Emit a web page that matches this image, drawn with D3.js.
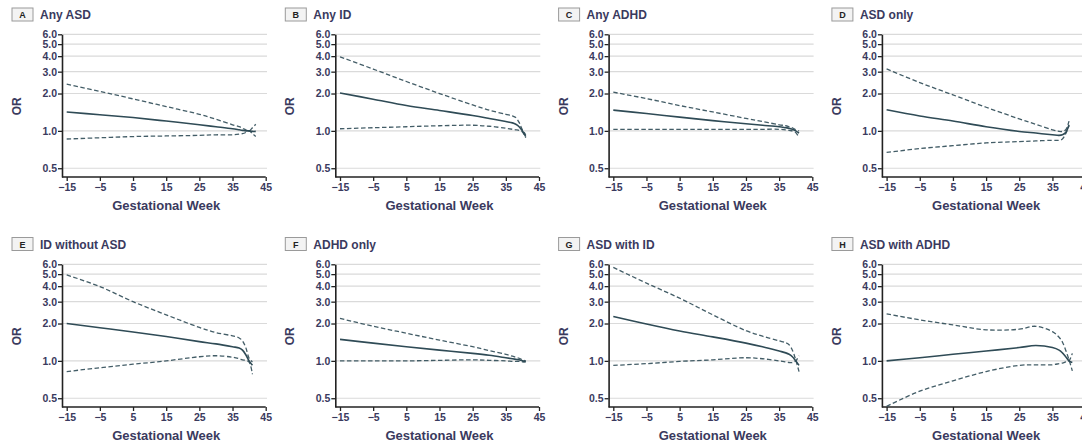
<!DOCTYPE html>
<html>
<head>
<meta charset="utf-8">
<script src="https://cdn.jsdelivr.net/npm/d3@7"></script>
<style>
  html, body { margin: 0; padding: 0; background: #fff; }
  svg { display: block; }
</style>
</head>
<body>
<svg id="chart" width="1082" height="444"></svg>
<script>
// ---- data ----
const weeks = [-15, -5, 5, 15, 25, 30, 35, 37, 38, 39, 40, 41, 42];
const xTicks = [-15, -5, 5, 15, 25, 35, 45];
const yTicks = [0.5, 1.0, 2.0, 3.0, 4.0, 5.0, 6.0];
const panelLetters = ["A", "B", "C", "D", "E", "F", "G", "H"];
const panelTitles = ["Any ASD", "Any ID", "Any ADHD", "ASD only", "ID without ASD", "ADHD only", "ASD with ID", "ASD with ADHD"];
const xLabel = "Gestational Week";
const yLabel = "OR";

const anyASD_or = [1.42, 1.35, 1.28, 1.20, 1.12, 1.08, 1.04, 1.02, 1.01, 1.00, 1.00, 0.99, 0.99];
const anyASD_hi = [2.38, 2.08, 1.81, 1.57, 1.36, 1.24, 1.12, 1.08, 1.05, 1.02, 1.00, 1.06, 1.13];
const anyASD_lo = [0.86, 0.88, 0.90, 0.91, 0.92, 0.93, 0.93, 0.94, 0.95, 0.97, 1.00, 0.95, 0.90];

const anyID_or = [2.02, 1.80, 1.60, 1.46, 1.33, 1.26, 1.19, 1.16, 1.13, 1.08, 1.00, 0.90, null];
const anyID_hi = [3.95, 3.15, 2.50, 2.00, 1.62, 1.47, 1.36, 1.32, 1.28, 1.17, 1.02, 0.93, null];
const anyID_lo = [1.04, 1.06, 1.08, 1.10, 1.11, 1.09, 1.05, 1.03, 1.02, 1.01, 0.98, 0.88, null];

const anyADHD_or = [1.47, 1.38, 1.29, 1.21, 1.14, 1.11, 1.08, 1.06, 1.05, 1.03, 1.00, 0.96, null];
const anyADHD_hi = [2.05, 1.82, 1.60, 1.42, 1.26, 1.19, 1.12, 1.10, 1.08, 1.06, 1.02, 1.00, null];
const anyADHD_lo = [1.03, 1.03, 1.03, 1.03, 1.03, 1.03, 1.03, 1.02, 1.01, 1.00, 0.97, 0.88, null];

const asdOnly_or = [1.48, 1.32, 1.20, 1.08, 0.99, 0.96, 0.93, 0.92, 0.93, 0.97, 1.12, null, null];
const asdOnly_hi = [3.16, 2.45, 1.95, 1.55, 1.25, 1.13, 1.02, 0.99, 0.99, 1.02, 1.20, null, null];
const asdOnly_lo = [0.67, 0.72, 0.76, 0.80, 0.82, 0.83, 0.84, 0.84, 0.86, 0.95, 1.10, null, null];

const idNoASD_or = [2.00, 1.85, 1.71, 1.57, 1.43, 1.37, 1.30, 1.27, 1.22, 1.12, 1.00, 0.92, null];
const idNoASD_hi = [4.93, 3.97, 3.00, 2.35, 1.86, 1.69, 1.59, 1.53, 1.45, 1.28, 1.05, 0.98, null];
const idNoASD_lo = [0.82, 0.88, 0.94, 1.00, 1.08, 1.10, 1.07, 1.04, 1.02, 1.01, 0.98, 0.78, null];

const adhdOnly_or = [1.49, 1.39, 1.30, 1.22, 1.15, 1.11, 1.06, 1.04, 1.03, 1.02, 1.00, 0.99, null];
const adhdOnly_hi = [2.20, 1.90, 1.67, 1.47, 1.30, 1.21, 1.13, 1.09, 1.07, 1.05, 1.02, 1.00, null];
const adhdOnly_lo = [1.00, 1.00, 1.00, 1.01, 1.02, 1.01, 1.00, 0.99, 0.99, 0.99, 0.98, 0.98, null];

const asdID_or = [2.28, 1.98, 1.74, 1.56, 1.39, 1.30, 1.20, 1.16, 1.13, 1.08, 1.00, 0.92, null];
const asdID_hi = [5.66, 4.23, 3.20, 2.35, 1.75, 1.58, 1.45, 1.40, 1.35, 1.22, 1.02, 0.82, null];
const asdID_lo = [0.92, 0.95, 0.99, 1.02, 1.06, 1.04, 1.00, 0.98, 0.97, 0.97, 1.00, 1.10, null];

const asdADHD_or = [1.00, 1.06, 1.13, 1.20, 1.28, 1.33, 1.28, 1.22, 1.16, 1.08, 1.00, 0.97, null];
const asdADHD_hi = [2.39, 2.14, 1.95, 1.78, 1.80, 1.90, 1.72, 1.55, 1.42, 1.22, 1.02, 0.83, null];
const asdADHD_lo = [0.43, 0.57, 0.69, 0.82, 0.92, 0.93, 0.93, 0.95, 0.96, 0.98, 1.00, 1.15, null];

const panelSeries = [
  [anyASD_or, anyASD_hi, anyASD_lo],
  [anyID_or, anyID_hi, anyID_lo],
  [anyADHD_or, anyADHD_hi, anyADHD_lo],
  [asdOnly_or, asdOnly_hi, asdOnly_lo],
  [idNoASD_or, idNoASD_hi, idNoASD_lo],
  [adhdOnly_or, adhdOnly_hi, adhdOnly_lo],
  [asdID_or, asdID_hi, asdID_lo],
  [asdADHD_or, asdADHD_hi, asdADHD_lo]
];

// ---- drawing ----
const svg = d3.select("#chart");
const textColor = "#3a3a5e";
const lineColor = "#2f4b56";
const font = "'Liberation Sans', Arial, sans-serif";

panelSeries.forEach((series, i) => {
  const col = i % 4, row = Math.floor(i / 4);
  const ax = 62 + col * 273.3;
  const top = 34.3 + row * 230;
  const bottom = 177 + row * 230;
  const x = d3.scaleLinear().domain([-15, 45]).range([ax + 4.7, ax + 203.7]);
  const y = d3.scaleLog().domain([0.425, 6]).range([bottom, top]);
  const g = svg.append("g");

  // gridlines
  g.selectAll("line.grid").data(yTicks).join("line")
    .attr("x1", ax).attr("x2", ax + 205)
    .attr("y1", d => y(d)).attr("y2", d => y(d))
    .attr("stroke", "#dadada").attr("stroke-width", 1.2);

  // y axis
  const yAx = g.append("g").attr("transform", `translate(${ax},0)`)
    .call(d3.axisLeft(y).tickValues(yTicks).tickFormat(d3.format(".1f")).tickSize(4).tickSizeOuter(0));
  // x axis
  const xAx = g.append("g").attr("transform", `translate(0,${bottom})`)
    .call(d3.axisBottom(x).tickValues(xTicks).tickSize(4).tickSizeOuter(0));
  xAx.select(".domain").remove();
  xAx.append("line").attr("x1", ax).attr("x2", x(45)).attr("y1", 0).attr("y2", 0)
    .attr("stroke", "#222").attr("stroke-width", 1.6);
  [yAx, xAx].forEach(a => {
    a.selectAll(".domain").attr("stroke", "#222").attr("stroke-width", 1.6);
    a.selectAll(".tick line").attr("stroke", "#222").attr("stroke-width", 1.3);
    a.selectAll(".tick text").attr("fill", textColor)
      .style("font-family", font).style("font-size", "10.5px").style("font-weight", "bold");
  });
  yAx.selectAll(".tick text").attr("x", -5);

  // lines
  const line = d3.line()
    .defined(d => d[1] != null)
    .x(d => x(d[0])).y(d => y(d[1]))
    .curve(d3.curveCatmullRom.alpha(0.5));
  const clipId = "clip" + i;
  svg.append("clipPath").attr("id", clipId).append("rect")
    .attr("x", ax).attr("y", top - 10).attr("width", 230).attr("height", bottom - top + 12);
  const lg = g.append("g").attr("clip-path", `url(#${clipId})`);
  series.forEach((vals, k) => {
    const pts = weeks.map((w, j) => [w, vals[j]]);
    lg.append("path").datum(pts)
      .attr("d", line)
      .attr("fill", "none")
      .attr("stroke", lineColor)
      .attr("stroke-width", k === 0 ? 1.6 : 1.3)
      .attr("stroke-dasharray", k === 0 ? null : "4.5,2.5")
      .attr("opacity", k === 0 ? 1 : 0.9);
  });

  // title
  const ty = 8 + row * 229.5;
  g.append("rect").attr("x", ax - 50).attr("y", ty).attr("width", 21).attr("height", 13)
    .attr("fill", "#f3f3f3").attr("stroke", "#9a9a9a").attr("stroke-width", 1);
  g.append("text").attr("x", ax - 39.5).attr("y", ty + 10)
    .attr("text-anchor", "middle").attr("fill", "#222")
    .style("font-family", font).style("font-size", "9px").style("font-weight", "bold")
    .text(panelLetters[i]);
  g.append("text").attr("x", ax - 22).attr("y", ty + 11)
    .attr("fill", textColor)
    .style("font-family", font).style("font-size", "12px").style("font-weight", "bold")
    .text(panelTitles[i]);

  // axis labels
  g.append("text").attr("x", x(15)).attr("y", bottom + 32.5)
    .attr("text-anchor", "middle").attr("fill", textColor)
    .style("font-family", font).style("font-size", "13px").style("font-weight", "bold")
    .text(xLabel);
  g.append("text")
    .attr("transform", `translate(${ax - 41},${top + 72}) rotate(-90)`)
    .attr("text-anchor", "middle").attr("fill", textColor)
    .style("font-family", font).style("font-size", "12px").style("font-weight", "bold")
    .text(yLabel);
});
</script>
</body>
</html>
